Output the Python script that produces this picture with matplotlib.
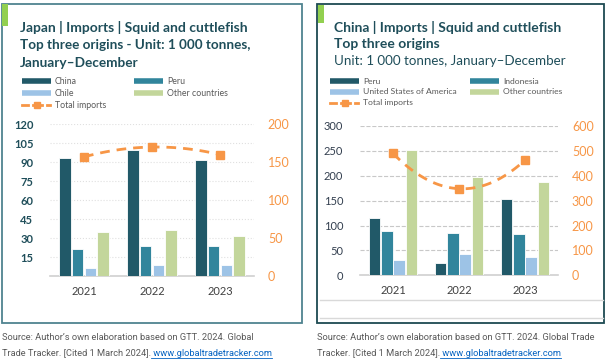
import numpy as np
import matplotlib
matplotlib.use('Agg')
import matplotlib.pyplot as plt
from matplotlib.patches import Rectangle
from matplotlib.lines import Line2D

plt.rcParams['font.family'] = ['Lato', 'DejaVu Sans']

# Data
years = ['2021', '2022', '2023']

jp_china = [93, 100, 92]
jp_peru = [21, 24, 24]
jp_chile = [6, 9, 9]
jp_other = [35, 36, 32]
jp_total = [157, 170, 160]

cn_peru = [116, 24, 153]
cn_indonesia = [90, 85, 83]
cn_usa = [30, 43, 37]
cn_other = [252, 198, 187]
cn_total = [490, 348, 463]

jp_left_ticks = [15, 30, 45, 60, 75, 90, 105, 120]
jp_right_ticks = [0, 50, 100, 150, 200]
cn_left_ticks = [0, 50, 100, 150, 200, 250, 300]
cn_right_ticks = [0, 100, 200, 300, 400, 500, 600]

c_dark = '#215968'
c_mid = '#31859c'
c_light = '#9dc3e6'
c_green = '#c3d69b'
c_orange = '#f79646'
c_title = '#1f4e5a'
c_text = '#595959'

W, H = 608, 362
fig = plt.figure(figsize=(W / 100, H / 100), dpi=100)


def fx(x):
    return x / W


def fy(y):
    return 1 - y / H


def draw_panel(x0, y0, x1, y1, edge, accent):
    fig.add_artist(Rectangle((fx(x0), fy(y1)), fx(x1 - x0), (y1 - y0) / H,
                             transform=fig.transFigure, fill=False,
                             edgecolor=edge, lw=1.3))
    fig.add_artist(Rectangle((fx(accent[0]), fy(accent[3])),
                             fx(accent[2] - accent[0]), (accent[3] - accent[1]) / H,
                             transform=fig.transFigure, color='#92d050', lw=0))


def legend_entry(x, y, label, color, total=False, size=6.3):
    if total:
        fig.add_artist(Line2D([fx(x), fx(x + 6)], [fy(y), fy(y)], color=c_orange, lw=2,
                              transform=fig.transFigure))
        fig.add_artist(Line2D([fx(x + 11), fx(x + 20)], [fy(y), fy(y)], color=c_orange, lw=2,
                              transform=fig.transFigure))
        fig.add_artist(Line2D([fx(x + 15)], [fy(y)], color=c_orange, marker='s', ms=4,
                              transform=fig.transFigure))
        fig.add_artist(Line2D([fx(x + 25), fx(x + 28)], [fy(y), fy(y)], color=c_orange, lw=2,
                              transform=fig.transFigure))
    else:
        fig.add_artist(Line2D([fx(x), fx(x + 29)], [fy(y), fy(y)], color=color, lw=4,
                              solid_capstyle='butt', transform=fig.transFigure))
    fig.text(fx(x + 33), fy(y), label, fontsize=size, color=c_text, va='center', ha='left')


def bar_chart(rect, series, colors, total, lticks, rticks, lmax, rmax, step, width,
              lcolor, lbold, grid_style):
    ax = fig.add_axes(rect)
    x = np.arange(len(years))
    for i, (vals, col) in enumerate(zip(series, colors)):
        ax.bar(x + (i - 1.5) * step, vals, width, color=col, edgecolor='white',
               lw=0.6, zorder=3)
    ax.set_xlim(-0.5, 2.5)
    ax.set_ylim(0, lmax)
    ax.set_yticks(lticks)
    ax.set_yticklabels([str(t) for t in lticks], color=lcolor,
                       fontweight='bold' if lbold else 'normal', fontsize=8)
    ax.set_xticks(x)
    ax.set_xticklabels(years, fontsize=8, color='#404040')
    ax.tick_params(length=0, pad=7)
    ax.tick_params(axis='y', pad=12)
    for s in ['top', 'left', 'right']:
        ax.spines[s].set_visible(False)
    ax.spines['bottom'].set_color('#d0d0d0')
    ax.spines['bottom'].set_linewidth(1.2)
    ax.yaxis.grid(True, color=grid_style[0], ls=grid_style[1], lw=0.8, zorder=0)
    ax.set_axisbelow(True)

    ax2 = ax.twinx()
    ax2.set_ylim(0, rmax)
    ax2.set_yticks(rticks)
    ax2.set_yticklabels([str(t) for t in rticks], color=c_orange, fontsize=9)
    ax2.tick_params(length=0, pad=10)
    for s in ax2.spines.values():
        s.set_visible(False)
    # smoothed line through the three yearly totals, like Excel's smoothed line
    coef = np.polyfit(x, total, 2)
    xs = np.linspace(0, 2, 100)
    ax2.plot(xs, np.polyval(coef, xs), color=c_orange, lw=2, dashes=(3.5, 2.5), zorder=4)
    ax2.plot(x, total, ls='none', marker='s', ms=5.5, color=c_orange, zorder=5)
    return ax


# Left panel: Japan
draw_panel(2, 4, 302, 323, '#4f8390', (2, 4, 8, 26))
fig.text(fx(20), fy(28), 'Japan | Imports | Squid and cuttlefish', fontsize=10,
         fontweight='bold', color=c_title, va='center')
fig.text(fx(20), fy(45), 'Top three origins - Unit: 1 000 tonnes,', fontsize=9.7,
         fontweight='bold', color=c_title, va='center')
fig.text(fx(20), fy(63), 'January\u2013December', fontsize=9.8,
         fontweight='bold', color=c_title, va='center')
legend_entry(22, 81, 'China', c_dark)
legend_entry(134, 81, 'Peru', c_mid)
legend_entry(22, 93, 'Chile', c_light)
legend_entry(134, 93, 'Other countries', c_green)
legend_entry(22, 105, 'Total imports', None, total=True)

bar_chart([fx(50), fy(276), fx(204), 151.7 / H],
          [jp_china, jp_peru, jp_chile, jp_other], [c_dark, c_mid, c_light, c_green],
          jp_total, jp_left_ticks, jp_right_ticks, 120, 200, 0.186, 0.168,
          c_title, True, ('#e0e0e0', ':'))

# Right panel: China
draw_panel(317, 4, 604, 323, '#1d4a52', (318, 5, 324, 23))
fig.add_artist(Line2D([fx(320), fx(603)], [fy(300), fy(300)], color='#d9d9d9', lw=1,
                      transform=fig.transFigure))
fig.add_artist(Line2D([fx(320), fx(603)], [fy(318), fy(318)], color='#d9d9d9', lw=1,
                      transform=fig.transFigure))
fig.text(fx(334), fy(27), 'China | Imports | Squid and cuttlefish', fontsize=10,
         fontweight='bold', color=c_title, va='center')
fig.text(fx(334), fy(44), 'Top three origins', fontsize=10,
         fontweight='bold', color=c_title, va='center')
fig.text(fx(334), fy(61), 'Unit: 1 000 tonnes, January\u2013December', fontsize=9.6,
         color=c_title, va='center')
legend_entry(330, 81, 'Peru', c_dark, size=6.1)
legend_entry(470, 81, 'Indonesia', c_mid, size=6.1)
legend_entry(330, 92, 'United States of America', c_light, size=6.1)
legend_entry(470, 92, 'Other countries', c_green, size=6.1)
legend_entry(330, 103, 'Total imports', None, total=True, size=6.1)

bar_chart([fx(360), fy(275.3), fx(198), 149.3 / H],
          [cn_peru, cn_indonesia, cn_usa, cn_other], [c_dark, c_mid, c_light, c_green],
          cn_total, cn_left_ticks, cn_right_ticks, 300, 600, 0.187, 0.18,
          '#333f4f', False, ('#c8c8c8', '--'))

# Sources
src_font = dict(fontsize=6.7, color='#595959', va='center', family=['Roboto', 'DejaVu Sans'])
fig.text(fx(2), fy(338), 'Source: Author\u2019s own elaboration based on GTT. 2024. Global', **src_font)
t1 = fig.text(fx(2), fy(353), 'Trade Tracker. [Cited 1 March 2024].', **src_font)
fig.text(fx(317), fy(338), 'Source: Author\u2019s own elaboration based on GTT. 2024. Global Trade', **src_font)
t2 = fig.text(fx(317), fy(353), 'Tracker. [Cited 1 March 2024].', **src_font)

fig.canvas.draw()
r = fig.canvas.get_renderer()
for t in (t1, t2):
    bb = t.get_window_extent(r)
    lk = fig.text(bb.x1 / W, fy(353), ' www.globaltradetracker.com', fontsize=6.7,
                  color='#0563c1', va='center', family=['Roboto', 'DejaVu Sans'])
    fig.canvas.draw()
    lb = lk.get_window_extent(r)
    fig.add_artist(Line2D([lb.x0 / W, lb.x1 / W], [fy(358), fy(358)], color='#0563c1',
                          lw=0.6, transform=fig.transFigure))

fig.savefig('out.png', dpi=100)
